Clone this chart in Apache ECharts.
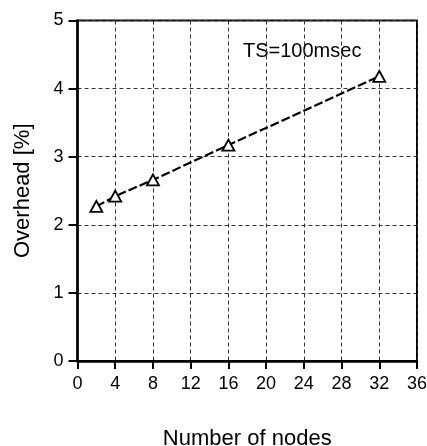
<!DOCTYPE html>
<html>
<head>
<meta charset="utf-8">
<script src="https://cdn.jsdelivr.net/npm/echarts@6/dist/echarts.min.js"></script>
<style>
html,body{margin:0;padding:0;background:#fff;}
#chart{width:427px;height:446px;}
</style>
</head>
<body>
<div id="chart"></div>
<script>
var nodes = [2, 4, 8, 16, 32];
var overhead = [2.27, 2.42, 2.66, 3.17, 4.18];
var xTitle = 'Number of nodes';
var yTitle = 'Overhead [%]';
var annotation = 'TS=100msec';

var FONT = '"Liberation Sans", Arial, Helvetica, sans-serif';
var chart = echarts.init(document.getElementById('chart'));
var points = nodes.map(function (n, i) { return [n, overhead[i]]; });

chart.setOption({
  animation: false,
  backgroundColor: '#fff',
  grid: {
    left: 77.5, right: 10, top: 20.5, bottom: 85,
    containLabel: false, outerBoundsMode: 'none',
    show: true, borderColor: '#000', borderWidth: 2, backgroundColor: 'transparent'
  },
  xAxis: {
    type: 'value', min: 0, max: 36, interval: 4,
    name: xTitle, nameLocation: 'middle', nameGap: 67,
    nameTextStyle: { fontFamily: FONT, fontSize: 22, color: '#000' },
    axisLine: { show: true, onZero: false, lineStyle: { color: '#000', width: 2.5 } },
    axisTick: { show: true, inside: false, length: 8, lineStyle: { color: '#000', width: 2 } },
    axisLabel: { fontFamily: FONT, fontSize: 18, color: '#000', margin: 14 },
    splitLine: { show: true, lineStyle: { color: '#333', width: 1, type: [4, 3] } }
  },
  yAxis: {
    type: 'value', min: 0, max: 5, interval: 1,
    name: yTitle, nameLocation: 'middle', nameGap: 44, nameRotate: 90,
    nameTextStyle: { fontFamily: FONT, fontSize: 22, color: '#000' },
    axisLine: { show: true, onZero: false, lineStyle: { color: '#000', width: 2.5 } },
    axisTick: { show: true, inside: false, length: 9, lineStyle: { color: '#000', width: 2 } },
    axisLabel: { fontFamily: FONT, fontSize: 18, color: '#000', margin: 14 },
    splitLine: { show: true, lineStyle: { color: '#333', width: 1, type: [4, 3] } }
  },
  graphic: [{
    type: 'text', left: 243, top: 41,
    style: { text: annotation, font: '20px ' + FONT, fill: '#000' }
  }],
  series: [{
    type: 'line',
    data: points,
    symbol: 'triangle',
    symbolSize: [12, 11],
    itemStyle: { color: '#fff', borderColor: '#000', borderWidth: 1.8 },
    lineStyle: { color: '#000', width: 2.2, type: [9, 3] }
  }]
});
</script>
</body>
</html>
